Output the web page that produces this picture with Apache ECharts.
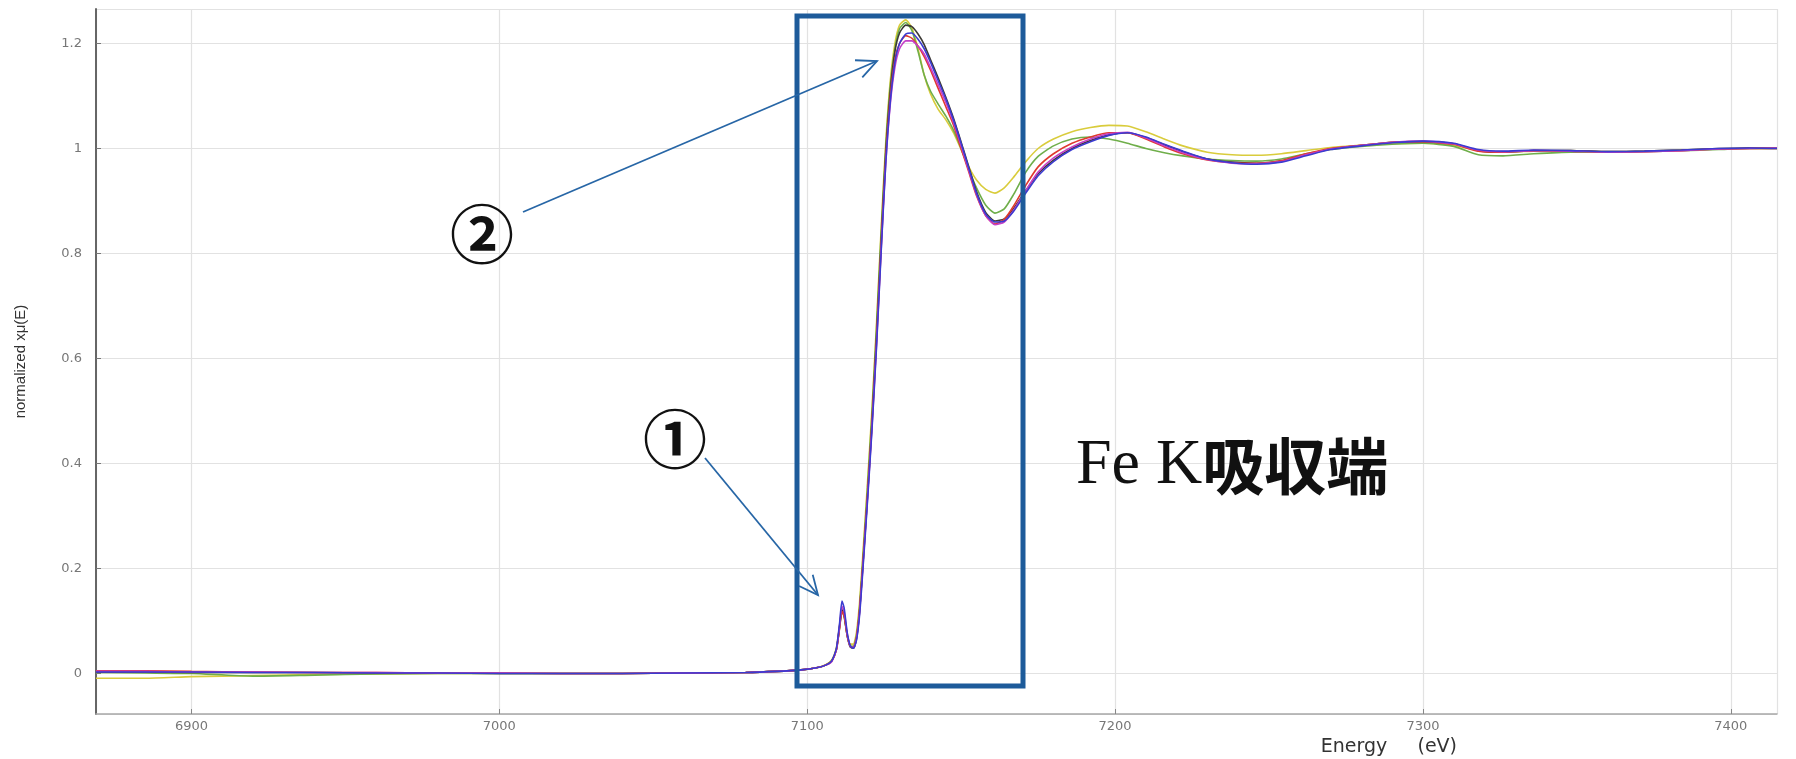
<!DOCTYPE html>
<html>
<head>
<meta charset="utf-8">
<script src="https://cdn.jsdelivr.net/npm/echarts@6/dist/echarts.min.js"></script>
<style>
html,body{margin:0;padding:0;background:#fff;}
#chart{width:1796px;height:759px;}
</style>
</head>
<body>
<div id="chart"></div>
<script>
// ---- data ----
const energy = [6869,6885,6900,6920,6940,6960,6980,7000,7020,7040,7060,7080,7090,7098,7103,7106,7108,7109.5,7110.5,7111.3,
  7112,7113,7114,7115,7116,7117,7118,7119.5,7121,7122.5,7124,7125.5,7127,7128.5,7130,7132,7134,7136,7138,7140,
  7142.5,7145,7147.5,7150,7152.5,7155,7158,7161,7164,7167,7171,7175,7180,7186,7192,7198,7204,7210,7216,7222,
  7230,7238,7246,7254,7262,7270,7280,7290,7300,7310,7318,7326,7336,7348,7360,7372,7384,7396,7406,7415];

const seriesNames = ['yellow','green','black','red','magenta','blue'];

const muYellow = [-0.009,-0.009,-0.006,-0.004,-0.002,-0.001,0.0,0.0,0.0,0.0,0.001,0.002,0.004,0.007,0.011,0.017,0.026,0.05,0.09,0.12,
  0.11,0.075,0.056,0.056,0.078,0.135,0.22,0.355,0.5,0.665,0.845,1.01,1.13,1.2,1.235,1.245,1.23,1.19,1.14,1.105,
  1.075,1.055,1.03,0.998,0.965,0.94,0.922,0.915,0.925,0.945,0.975,1.0,1.018,1.032,1.04,1.044,1.043,1.032,1.018,1.005,
  0.993,0.988,0.987,0.99,0.996,1.002,1.006,1.009,1.01,1.006,0.996,0.993,0.995,0.996,0.994,0.995,0.997,0.999,1.0,1.0];

const muGreen = [0.002,0.001,0.0,-0.005,-0.003,-0.001,0.0,0.0,0.0,0.0,0.001,0.002,0.004,0.007,0.011,0.016,0.025,0.047,0.087,0.118,
  0.108,0.072,0.053,0.052,0.072,0.125,0.21,0.345,0.49,0.655,0.835,1.0,1.12,1.19,1.228,1.24,1.225,1.185,1.14,1.11,
  1.085,1.062,1.035,1.0,0.96,0.925,0.892,0.877,0.885,0.912,0.955,0.985,1.005,1.018,1.022,1.018,1.01,1.0,0.992,0.986,
  0.98,0.977,0.976,0.98,0.99,0.998,1.004,1.008,1.01,1.004,0.988,0.986,0.99,0.993,0.993,0.994,0.996,0.998,1.0,1.0];

const muBlack = [0.003,0.003,0.002,0.002,0.002,0.001,0.001,0.0,0.0,0.0,0.001,0.002,0.004,0.007,0.011,0.016,0.024,0.046,0.088,0.122,
  0.112,0.072,0.05,0.048,0.066,0.118,0.2,0.33,0.475,0.64,0.82,0.99,1.11,1.185,1.22,1.235,1.232,1.218,1.198,1.17,
  1.135,1.098,1.058,1.012,0.965,0.918,0.878,0.862,0.866,0.885,0.92,0.952,0.978,1.0,1.015,1.026,1.03,1.021,1.007,0.994,
  0.98,0.974,0.972,0.976,0.988,0.999,1.006,1.012,1.013,1.009,0.996,0.993,0.996,0.996,0.994,0.995,0.997,1.0,1.001,1.001];

const muRed = [0.005,0.005,0.004,0.003,0.002,0.002,0.001,0.001,0.0,0.0,0.001,0.002,0.004,0.007,0.011,0.016,0.024,0.045,0.085,0.118,
  0.11,0.072,0.052,0.05,0.068,0.12,0.2,0.33,0.47,0.63,0.81,0.98,1.1,1.17,1.2,1.215,1.21,1.195,1.175,1.15,
  1.115,1.08,1.045,1.0,0.955,0.91,0.872,0.856,0.865,0.89,0.93,0.965,0.99,1.01,1.022,1.03,1.03,1.018,1.003,0.99,
  0.978,0.973,0.972,0.977,0.99,1.0,1.006,1.012,1.013,1.008,0.995,0.993,0.996,0.995,0.993,0.994,0.996,0.999,1.0,1.0];

const muMagenta = [0.004,0.004,0.003,0.003,0.002,0.002,0.001,0.001,0.0,0.0,0.001,0.002,0.004,0.007,0.011,0.016,0.023,0.046,0.09,0.128,
  0.118,0.075,0.052,0.049,0.066,0.115,0.195,0.325,0.465,0.625,0.805,0.97,1.085,1.155,1.19,1.205,1.205,1.195,1.18,1.155,
  1.122,1.088,1.05,1.005,0.958,0.912,0.872,0.855,0.86,0.882,0.92,0.955,0.982,1.003,1.018,1.028,1.031,1.02,1.005,0.992,
  0.979,0.972,0.971,0.975,0.988,0.999,1.006,1.012,1.014,1.009,0.997,0.994,0.996,0.995,0.993,0.994,0.996,0.999,1.0,1.001];

const muBlue = [0.003,0.003,0.003,0.002,0.002,0.001,0.001,0.0,0.0,0.0,0.001,0.002,0.004,0.007,0.011,0.016,0.024,0.048,0.095,0.138,
  0.125,0.078,0.053,0.048,0.063,0.11,0.19,0.32,0.46,0.62,0.8,0.97,1.09,1.165,1.2,1.218,1.22,1.208,1.19,1.165,
  1.13,1.095,1.055,1.01,0.962,0.915,0.875,0.86,0.862,0.88,0.915,0.948,0.975,0.998,1.013,1.025,1.03,1.022,1.008,0.995,
  0.98,0.973,0.97,0.974,0.986,0.998,1.005,1.011,1.014,1.01,0.998,0.995,0.997,0.996,0.994,0.995,0.997,1.0,1.001,1.0];

const seriesValues = [muYellow, muGreen, muBlack, muRed, muMagenta, muBlue];
const seriesColors = ['#d9cc3c','#6fae4a','#3d3a35','#e0392e','#c43fc8','#3b3bd0'];

const xName = 'Energy     (eV)';
const yName = 'normalized xμ(E)';
const label1 = '①';
const label2 = '②';
const edgeLabel = 'Fe K吸収端';

// ---- chart ----
const chart = echarts.init(document.getElementById('chart'), null, {renderer: 'canvas'});

function arrow(x1, y1, x2, y2, head, color, w) {
  const dx = x2 - x1, dy = y2 - y1, L = Math.hypot(dx, dy);
  const bx = -dx / L, by = -dy / L, a = 25 * Math.PI / 180;
  const c = Math.cos(a), s = Math.sin(a);
  const p1 = [x2 + head * (bx * c - by * s), y2 + head * (bx * s + by * c)];
  const p2 = [x2 + head * (bx * c + by * s), y2 + head * (-bx * s + by * c)];
  return [
    {type: 'line', shape: {x1: x1, y1: y1, x2: x2, y2: y2}, style: {stroke: color, lineWidth: w}, z: 100},
    {type: 'polyline', shape: {points: [p1, [x2, y2], p2]}, style: {stroke: color, lineWidth: w, fill: null}, z: 100}
  ];
}

const boxColor = '#1d5b9a';
const arrowColor = '#2766a6';

const option = {
  animation: false,
  backgroundColor: '#ffffff',
  grid: {left: 96, right: 19, top: 9, bottom: 45, containLabel: false},
  xAxis: {
    type: 'value', min: 6869, max: 7415, splitNumber: 5,
    name: xName, nameLocation: 'end',
    nameTextStyle: {fontFamily: 'DejaVu Sans', fontSize: 19, color: '#333', align: 'right', verticalAlign: 'top', padding: [24, 320, 0, 0]},
    nameGap: 0,
    axisLine: {show: true, onZero: false, lineStyle: {color: '#a8a8a8', width: 1.5}},
    axisTick: {show: true, inside: true, length: 5, lineStyle: {color: '#888'}},
    axisLabel: {showMinLabel: false, showMaxLabel: false, fontFamily: 'DejaVu Sans', fontSize: 13, color: '#777', margin: 6,
      formatter: v => String(v)},
    splitLine: {show: true, lineStyle: {color: '#e2e2e2', width: 1.2}}
  },
  yAxis: {
    type: 'value', min: -0.0771, max: 1.2657, splitNumber: 6,
    name: yName, nameLocation: 'middle', nameGap: 68, nameRotate: 90,
    nameTextStyle: {fontFamily: 'Liberation Sans', fontSize: 15, color: '#333'},
    axisLine: {show: true, onZero: false, lineStyle: {color: '#666', width: 2}},
    axisTick: {show: true, inside: true, length: 5, lineStyle: {color: '#777'}},
    axisLabel: {showMinLabel: false, showMaxLabel: false, fontFamily: 'DejaVu Sans', fontSize: 13, color: '#777', margin: 14,
      formatter: v => String(Math.round(v * 10) / 10)},
    splitLine: {show: true, lineStyle: {color: '#e2e2e2', width: 1.2}}
  },
  series: seriesNames.map((n, i) => ({
    name: n, type: 'line', showSymbol: false, smooth: 0.2,
    data: energy.map((e, j) => [e, seriesValues[i][j]]),
    lineStyle: {color: seriesColors[i], width: 1.6},
    itemStyle: {color: seriesColors[i]},
    z: 2 + i
  })),
  graphic: [
    {type: 'rect', shape: {x: 797, y: 16, width: 226, height: 670}, style: {stroke: boxColor, lineWidth: 5, fill: null}, z: 100},
    ...arrow(523, 212, 877, 61, 22, arrowColor, 1.8),
    ...arrow(705, 458, 818, 595, 21, arrowColor, 1.8),
    {type: 'text', x: 482, y: 234, style: {text: label2, fontFamily: 'Noto Sans CJK JP', fontWeight: 'bold', fontSize: 64, fill: '#111', align: 'center', verticalAlign: 'middle'}, z: 100},
    {type: 'text', x: 675, y: 439, style: {text: label1, fontFamily: 'Noto Sans CJK JP', fontWeight: 'bold', fontSize: 64, fill: '#111', align: 'center', verticalAlign: 'middle'}, z: 100},
    {type: 'text', x: 1076, y: 466, style: {
      text: '{a|Fe K}{b|吸収端}', align: 'left', verticalAlign: 'middle',
      rich: {
        a: {fontFamily: 'Liberation Serif', fontSize: 64, fill: '#111', color: '#111'},
        b: {fontFamily: 'Noto Sans CJK JP', fontWeight: 'bold', fontSize: 62, fill: '#111', color: '#111'}
      }
    }, z: 100}
  ]
};
chart.setOption(option);
</script>
</body>
</html>
